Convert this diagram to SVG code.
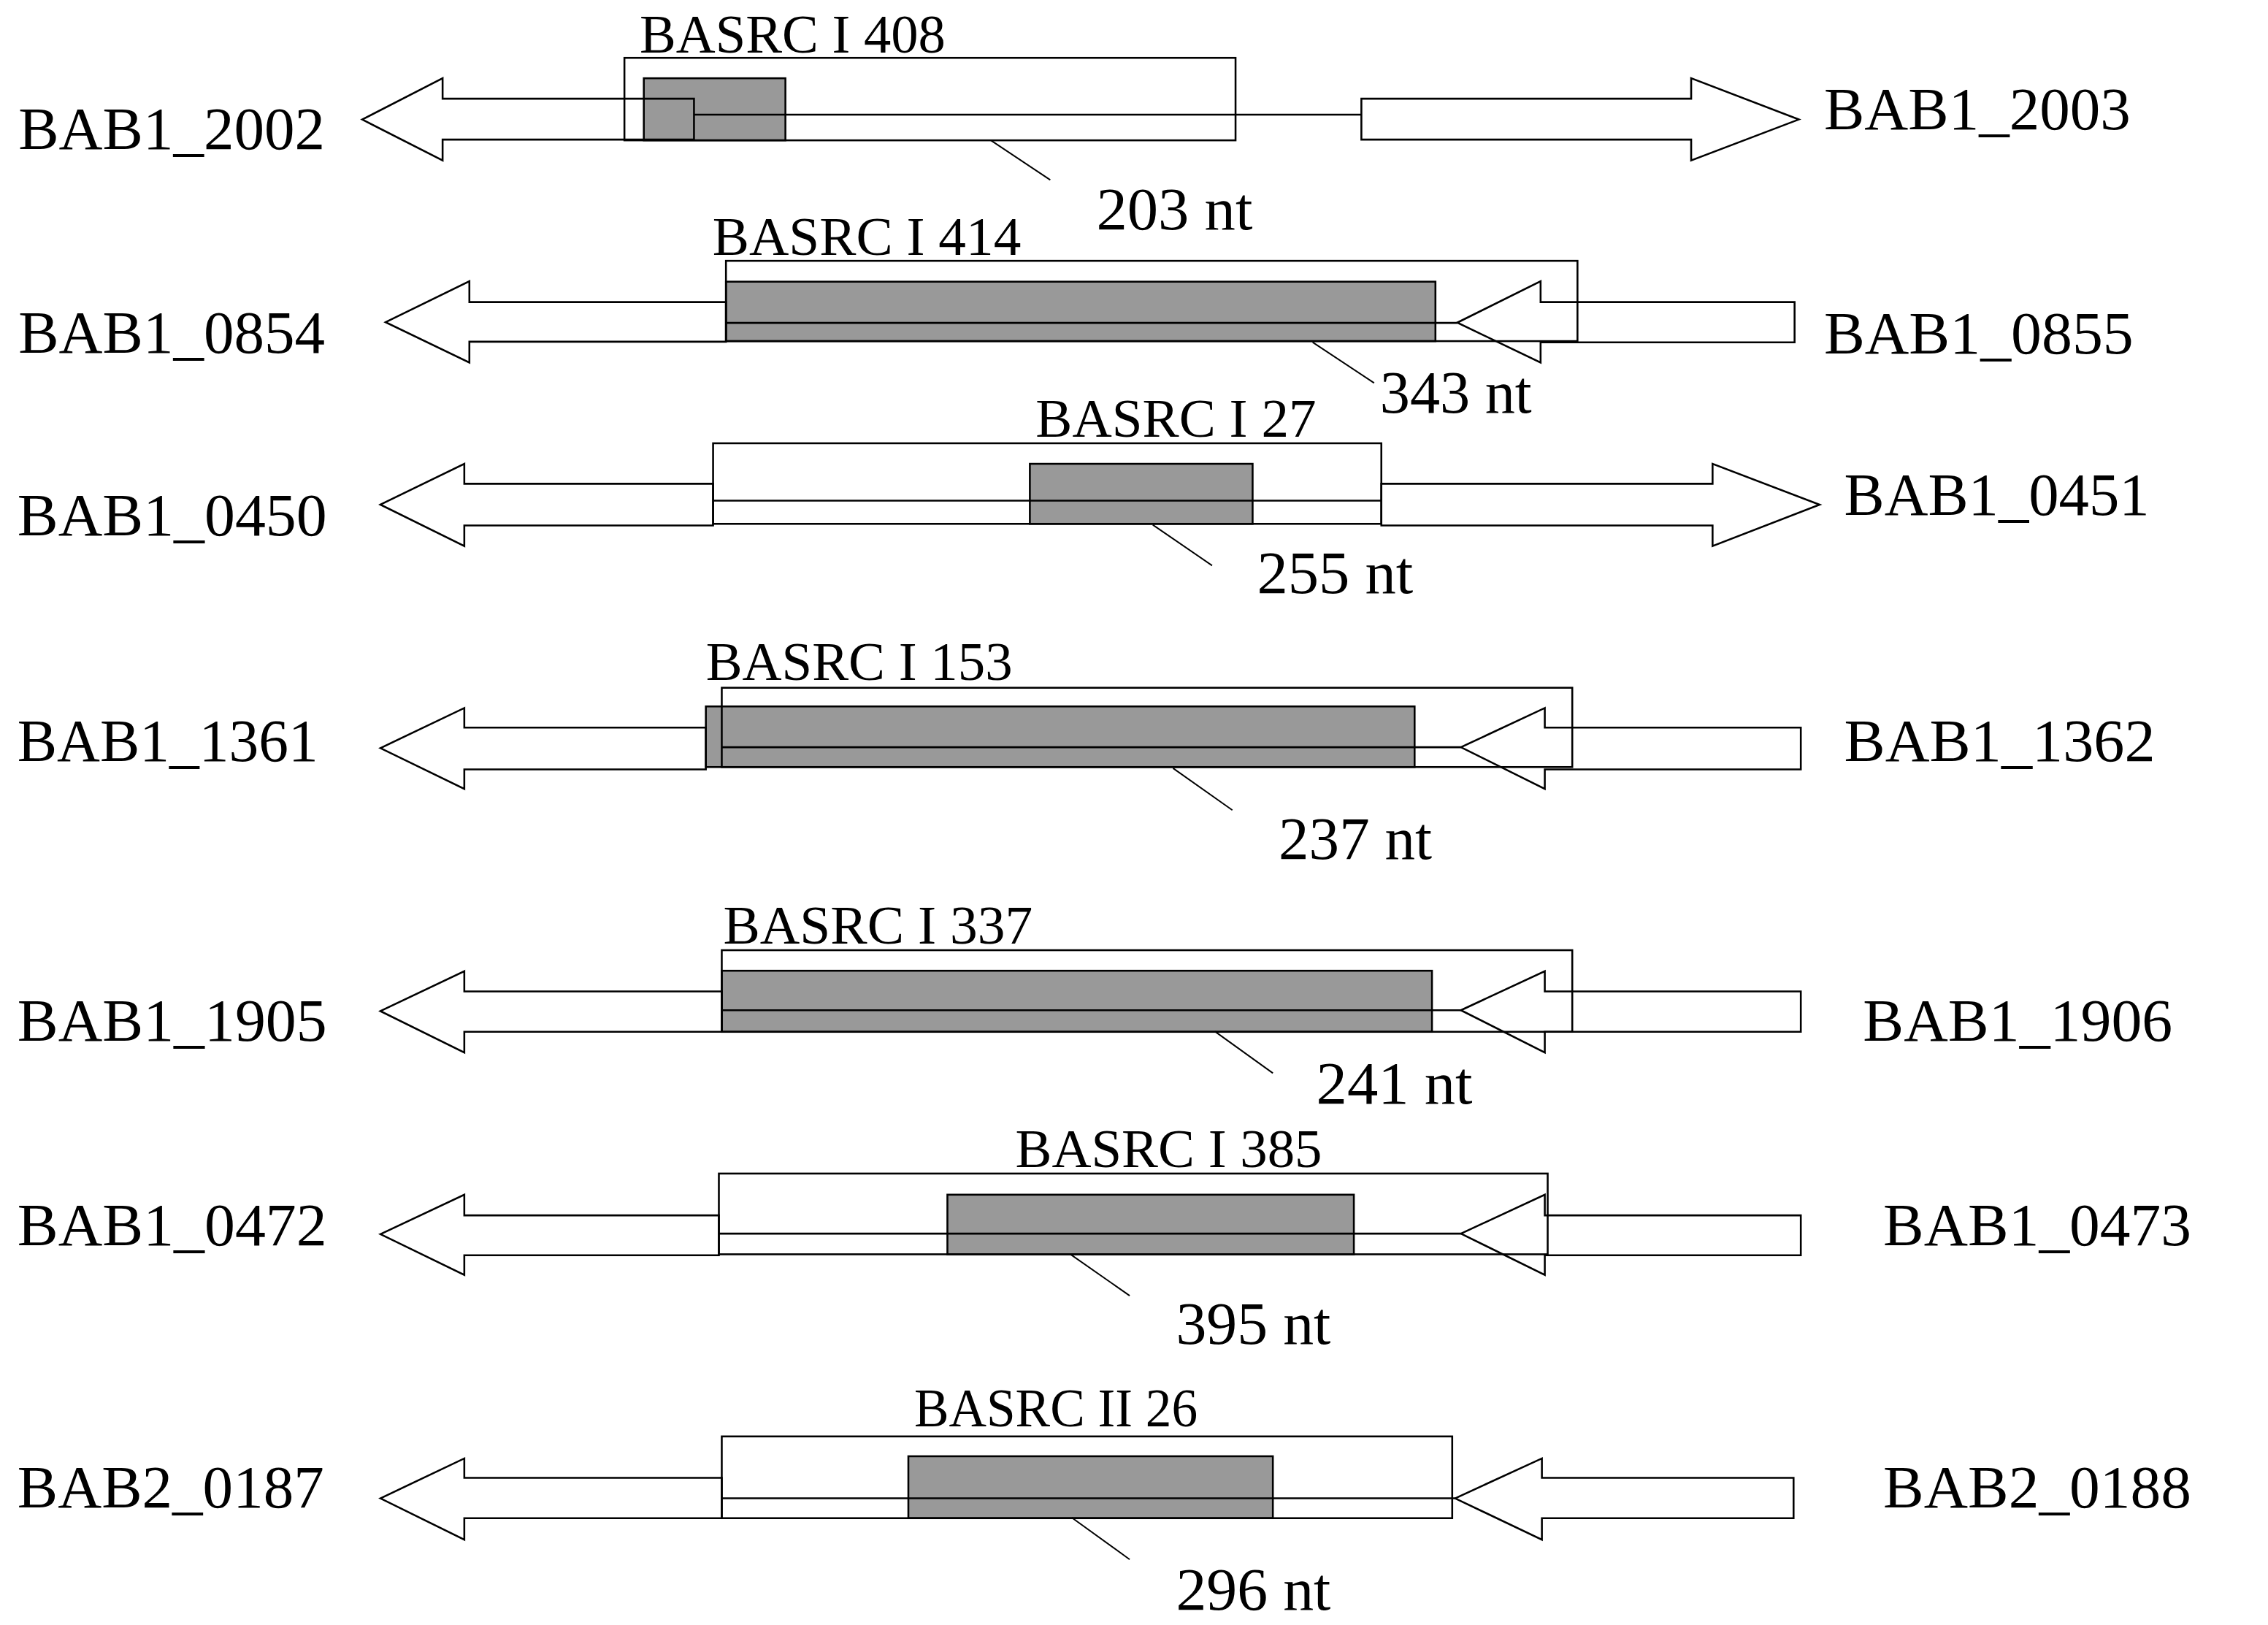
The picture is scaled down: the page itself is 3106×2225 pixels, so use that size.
<svg xmlns="http://www.w3.org/2000/svg" width="3106" height="2225" viewBox="0 0 3106 2225">
<style>
.arrow{fill:none;stroke:#000;stroke-width:1.3;stroke-linejoin:miter}
.gray{fill:#999;stroke:#000;stroke-width:1.3}
.box{fill:none;stroke:#000;stroke-width:1.3}
.mid{stroke:#000;stroke-width:1.3;fill:none}
.lead{stroke:#000;stroke-width:1;fill:none}
text{font-family:"Liberation Serif","Times New Roman",serif;fill:#000}
.gene{font-size:42px}
.src{font-size:37.5px}
.nt{font-size:42px}
</style>
<rect x="0" y="0" width="3106" height="2225" fill="#fff"/>
<g transform="scale(1.98087)">
<!-- Row 1 -->
<g id="row1">
<g id="region_BASRC_I_408"><rect class="gray" x="445.1" y="54.1" width="97.9" height="42.9"/></g>
<g id="gene_BAB1_2002"><polygon class="arrow" points="250.4,82.6 306,54.1 306,68.2 479.8,68.2 479.8,96.5 306,96.5 306,110.9"/><text class="gene" x="12.7" y="103.1" textLength="212" lengthAdjust="spacingAndGlyphs">BAB1_2002</text></g>
<g id="gene_BAB1_2003"><polygon class="arrow" points="941.2,68.2 1169.2,68.2 1169.2,54.1 1243.6,82.6 1169.2,110.9 1169.2,96.5 941.2,96.5"/><text class="gene" x="1261" y="89.6" textLength="212" lengthAdjust="spacingAndGlyphs">BAB1_2003</text></g>
<line class="mid" x1="479.8" y1="79.3" x2="941.2" y2="79.3"/>
<g id="box_BASRC_I_408"><rect class="box" x="431.7" y="40" width="422.5" height="57"/><text class="src" x="442.2" y="36.1" textLength="211.5" lengthAdjust="spacingAndGlyphs">BASRC I 408</text></g>
<g id="len_203"><text class="nt" x="758" y="158.7" textLength="108" lengthAdjust="spacingAndGlyphs">203 nt</text></g>
</g>
<!-- Row 2 -->
<g id="row2">
<g id="region_BASRC_I_414"><rect class="gray" x="501.9" y="194.7" width="490.5" height="41.1"/></g>
<g id="gene_BAB1_0854"><polygon class="arrow" points="266.6,222.7 324.5,194.4 324.5,208.8 501.9,208.8 501.9,236.2 324.5,236.2 324.5,250.6"/><text class="gene" x="12.7" y="243.8" textLength="212" lengthAdjust="spacingAndGlyphs">BAB1_0854</text></g>
<g id="gene_BAB1_0855"><polygon class="arrow" points="1007.5,223 1065.1,194.4 1065.1,208.8 1240.7,208.8 1240.7,236.6 1065.1,236.6 1065.1,250.6"/><text class="gene" x="1261" y="244.3" textLength="214" lengthAdjust="spacingAndGlyphs">BAB1_0855</text></g>
<line class="mid" x1="501.9" y1="223.2" x2="1007.5" y2="223.2"/>
<g id="box_BASRC_I_414"><rect class="box" x="501.9" y="180.3" width="588.7" height="55.5"/><text class="src" x="492.6" y="176.3" textLength="213.3" lengthAdjust="spacingAndGlyphs">BASRC I 414</text></g>
<g id="len_343"><text class="nt" x="954" y="285" textLength="105" lengthAdjust="spacingAndGlyphs">343 nt</text></g>
</g>
<!-- Row 3 -->
<g id="row3">
<g id="region_BASRC_I_27"><rect class="gray" x="712" y="320.6" width="154" height="41.5"/></g>
<g id="gene_BAB1_0450"><polygon class="arrow" points="263,348.8 321,320.6 321,334.4 493,334.4 493,363.2 321,363.2 321,377.4"/><text class="gene" x="12" y="370" textLength="214" lengthAdjust="spacingAndGlyphs">BAB1_0450</text></g>
<g id="gene_BAB1_0451"><polygon class="arrow" points="955,334.4 1184,334.4 1184,320.6 1258,348.8 1184,377.4 1184,363.2 955,363.2"/><text class="gene" x="1275" y="356" textLength="211" lengthAdjust="spacingAndGlyphs">BAB1_0451</text></g>
<line class="mid" x1="493" y1="346.1" x2="955" y2="346.1"/>
<g id="box_BASRC_I_27"><rect class="box" x="493" y="306.4" width="462" height="55.7"/><text class="src" x="716" y="301.9" textLength="194" lengthAdjust="spacingAndGlyphs">BASRC I 27</text></g>
<g id="len_255"><text class="nt" x="869" y="410.1" textLength="108" lengthAdjust="spacingAndGlyphs">255 nt</text></g>
</g>
<!-- Row 4 -->
<g id="row4">
<g id="region_BASRC_I_153"><rect class="gray" x="488" y="488.3" width="490" height="41.9"/></g>
<g id="gene_BAB1_1361"><polygon class="arrow" points="263,517.1 321,489.4 321,502.9 488,502.9 488,531.8 321,531.8 321,545.3"/><text class="gene" x="12" y="526.2" textLength="208" lengthAdjust="spacingAndGlyphs">BAB1_1361</text></g>
<g id="gene_BAB1_1362"><polygon class="arrow" points="1010,516.5 1068,489.4 1068,502.9 1245,502.9 1245,531.8 1068,531.8 1068,545.3"/><text class="gene" x="1275" y="526.2" textLength="215" lengthAdjust="spacingAndGlyphs">BAB1_1362</text></g>
<line class="mid" x1="499" y1="516.5" x2="1010" y2="516.5"/>
<g id="box_BASRC_I_153"><rect class="box" x="499" y="475.4" width="588" height="54.8"/><text class="src" x="488" y="469.8" textLength="212" lengthAdjust="spacingAndGlyphs">BASRC I 153</text></g>
<g id="len_237"><text class="nt" x="884" y="593.8" textLength="106" lengthAdjust="spacingAndGlyphs">237 nt</text></g>
</g>
<!-- Row 5 -->
<g id="row5">
<g id="region_BASRC_I_337"><rect class="gray" x="499" y="671" width="491" height="42.2"/></g>
<g id="gene_BAB1_1905"><polygon class="arrow" points="263,698.9 321,671.3 321,685.3 499,685.3 499,713.2 321,713.2 321,727.5"/><text class="gene" x="12" y="719.6" textLength="214" lengthAdjust="spacingAndGlyphs">BAB1_1905</text></g>
<g id="gene_BAB1_1906"><polygon class="arrow" points="1010,698.3 1068,671.3 1068,685.3 1245,685.3 1245,713.2 1068,713.2 1068,727.5"/><text class="gene" x="1288" y="719.6" textLength="214" lengthAdjust="spacingAndGlyphs">BAB1_1906</text></g>
<line class="mid" x1="499" y1="698.3" x2="1010" y2="698.3"/>
<g id="box_BASRC_I_337"><rect class="box" x="499" y="656.8" width="588" height="56.4"/><text class="src" x="500" y="652" textLength="214" lengthAdjust="spacingAndGlyphs">BASRC I 337</text></g>
<g id="len_241"><text class="nt" x="910" y="763" textLength="108" lengthAdjust="spacingAndGlyphs">241 nt</text></g>
</g>
<!-- Row 6 -->
<g id="row6">
<g id="region_BASRC_I_385"><rect class="gray" x="655" y="825.8" width="281" height="41.2"/></g>
<g id="gene_BAB1_0472"><polygon class="arrow" points="263,853.1 321,825.8 321,840.1 497,840.1 497,867.7 321,867.7 321,881.3"/><text class="gene" x="12" y="860.7" textLength="214" lengthAdjust="spacingAndGlyphs">BAB1_0472</text></g>
<g id="gene_BAB1_0473"><polygon class="arrow" points="1010,852.7 1068,825.8 1068,840.1 1245,840.1 1245,867.7 1068,867.7 1068,881.3"/><text class="gene" x="1302" y="860.7" textLength="213" lengthAdjust="spacingAndGlyphs">BAB1_0473</text></g>
<line class="mid" x1="497" y1="852.7" x2="1010" y2="852.7"/>
<g id="box_BASRC_I_385"><rect class="box" x="497" y="811.2" width="573" height="55.8"/><text class="src" x="702" y="806.8" textLength="212" lengthAdjust="spacingAndGlyphs">BASRC I 385</text></g>
<g id="len_395"><text class="nt" x="813" y="928.9" textLength="107" lengthAdjust="spacingAndGlyphs">395 nt</text></g>
</g>
<!-- Row 7 -->
<g id="row7">
<g id="region_BASRC_II_26"><rect class="gray" x="628" y="1006.6" width="252" height="42.8"/></g>
<g id="gene_BAB2_0187"><polygon class="arrow" points="263,1035.7 321,1008.1 321,1021.5 499,1021.5 499,1049.4 321,1049.4 321,1064.3"/><text class="gene" x="12" y="1042" textLength="212" lengthAdjust="spacingAndGlyphs">BAB2_0187</text></g>
<g id="gene_BAB2_0188"><polygon class="arrow" points="1006,1035.7 1066,1008.1 1066,1021.5 1240,1021.5 1240,1049.4 1066,1049.4 1066,1064.3"/><text class="gene" x="1302" y="1042" textLength="213" lengthAdjust="spacingAndGlyphs">BAB2_0188</text></g>
<line class="mid" x1="499" y1="1035.7" x2="1006" y2="1035.7"/>
<g id="box_BASRC_II_26"><rect class="box" x="499" y="992.9" width="505" height="56.5"/><text class="src" x="632" y="985.9" textLength="196" lengthAdjust="spacingAndGlyphs">BASRC II 26</text></g>
<g id="len_296"><text class="nt" x="813" y="1112.8" textLength="107" lengthAdjust="spacingAndGlyphs">296 nt</text></g>
</g>
<!-- Connectors: leader lines from region to length label -->
<g id="connectors">
<line class="lead" x1="685" y1="97" x2="726.1" y2="124.4"/>
<line class="lead" x1="907.5" y1="236.6" x2="950" y2="264.7"/>
<line class="lead" x1="797" y1="362.8" x2="838" y2="390.9"/>
<line class="lead" x1="811" y1="531" x2="852" y2="560"/>
<line class="lead" x1="840" y1="713" x2="880" y2="741.8"/>
<line class="lead" x1="740" y1="867" x2="781" y2="895.6"/>
<line class="lead" x1="741" y1="1049" x2="781" y2="1077.9"/>
</g>
</g>
</svg>
